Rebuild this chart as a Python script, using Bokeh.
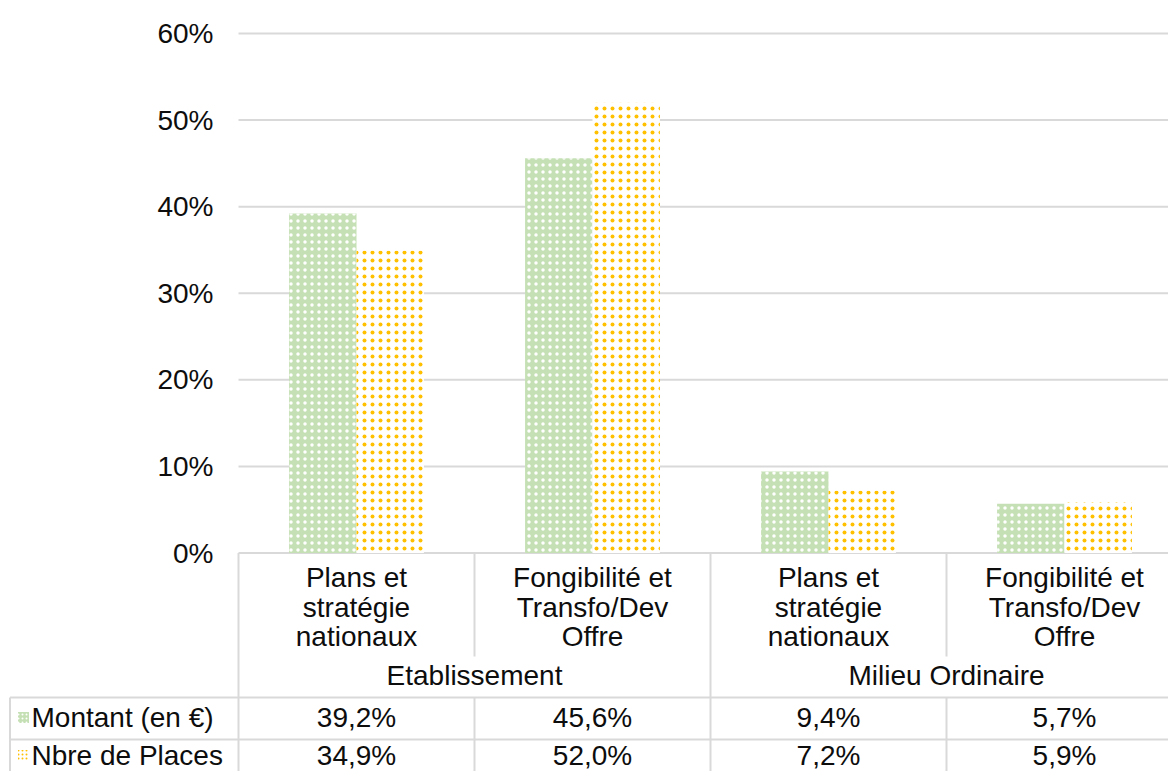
from bokeh.plotting import figure
from bokeh.models import Range1d, FixedTicker, NumeralTickFormatter, ColumnDataSource
from bokeh.embed import file_html
from bokeh.resources import INLINE
from bokeh.core.properties import value

# ---------------- data ----------------
categories = ["Plans et\nstratégie\nnationaux", "Fongibilité et\nTransfo/Dev\nOffre",
              "Plans et\nstratégie\nnationaux", "Fongibilité et\nTransfo/Dev\nOffre"]
groups = ["Etablissement", "Milieu Ordinaire"]
series_names = ["Montant (en €)", "Nbre de Places"]
montant = [0.392, 0.456, 0.094, 0.057]
places = [0.349, 0.520, 0.072, 0.059]
y_ticks = [0, 0.1, 0.2, 0.3, 0.4, 0.5, 0.6]

# ---------------- layout constants ----------------
W, H = 1168, 771
LEFT = 238                 # page x of the value axis / first category edge
COL = 236.0                # px per category
Y0 = 552.5                 # page y of 0 %
PXU = (Y0 - 33) / 0.6      # px per unit of value
FONT = "Liberation Sans"
FS = "28px"
GRID = "#D9D9D9"
GREEN = "#C5E0B4"
ORANGE = "#FFC000"
TXT = "#0d0d0d"


def py(page_y):
    """page y (px) -> value units"""
    return (Y0 - page_y) / PXU


def pxx(page_x):
    """page x (px) -> category units"""
    return (page_x - LEFT) / COL


def fmt(v):
    return f"{v*100:.1f}".replace(".", ",") + "%"


n = len(categories)
bw = 1 / 3.5
x_start, x_end = pxx(0), pxx(W)

p = figure(width=W, height=H, x_range=Range1d(x_start, x_end), y_range=Range1d(py(H), py(0)),
           output_backend="svg", toolbar_location=None, x_axis_location=None,
           min_border_left=0, min_border_right=0, min_border_top=0, min_border_bottom=0)
p.outline_line_color = None
p.grid.visible = False

# value axis drawn at the first category edge
ax = p.yaxis[0]
ax.fixed_location = 0
ax.ticker = FixedTicker(ticks=y_ticks)
ax.formatter = NumeralTickFormatter(format="0%")
ax.axis_line_color = None
ax.major_tick_line_color = None
ax.minor_tick_line_color = None
ax.major_tick_out = 0
ax.major_tick_in = 0
ax.major_label_text_font = FONT
ax.major_label_text_font_size = FS
ax.major_label_text_color = TXT
ax.major_label_standoff = 25

# horizontal gridlines at the value ticks
p.segment(x0=[0] * len(y_ticks), y0=y_ticks, x1=[x_end] * len(y_ticks), y1=y_ticks,
          line_color=GRID, line_width=2)

# ---------------- bars ----------------
xc = [i + 0.5 for i in range(n)]
src = ColumnDataSource(dict(x1=[x - bw / 2 for x in xc], x2=[x + bw / 2 for x in xc],
                            montant=montant, places=places))
p.vbar(x="x1", top="montant", bottom=0, width=bw, source=src, fill_color=GREEN, line_color=None,
       hatch_pattern="dot", hatch_color="white", hatch_scale=7, hatch_weight=2)
p.vbar(x="x2", top="places", bottom=0, width=bw, source=src, fill_color="white", line_color=None,
       hatch_pattern="dot", hatch_color=ORANGE, hatch_scale=8, hatch_weight=2)

# ---------------- data table ----------------
y_top, y_cat_end, y_grp, y_row, y_bot = Y0, 656, 697, 739, 800
x_tbl = pxx(9.5)
p.segment(x0=[x_tbl, x_tbl], y0=[py(y_grp), py(y_row)], x1=[x_end, x_end], y1=[py(y_grp), py(y_row)],
          line_color=GRID, line_width=2)
vx0, vy0, vy1 = [x_tbl, 0], [py(y_grp), py(y_top)], [py(y_bot), py(y_bot)]
for i in range(1, n):
    if i % 2 == 0:
        vx0.append(i); vy0.append(py(y_top)); vy1.append(py(y_bot))
    else:
        vx0 += [i, i]; vy0 += [py(y_top), py(y_grp)]; vy1 += [py(y_cat_end), py(y_bot)]
p.segment(x0=vx0, y0=vy0, x1=vx0, y1=vy1, line_color=GRID, line_width=2)

txt = dict(text_align="center", text_baseline="middle", text_font=value(FONT),
           text_font_size=value(FS), text_color=TXT)
# category labels
lx, ly, lt = [], [], []
for i, c in enumerate(categories):
    for j, line in enumerate(c.split("\n")):
        lx.append(i + 0.5); ly.append(py(577 + j * 29.5)); lt.append(line)
p.text(x=lx, y=ly, text=lt, **txt)
# group labels
p.text(x=[1.0, 3.0], y=[py(675), py(675)], text=groups, **txt)
# values
rows = [montant, places]
row_y = [717, 755]
vx, vy, vt = [], [], []
for r, vals in enumerate(rows):
    for i, v in enumerate(vals):
        vx.append(i + 0.5); vy.append(py(row_y[r])); vt.append(fmt(v))
p.text(x=vx, y=vy, text=vt, **txt)

# series names with their keys
p.text(x=[pxx(31)] * 2, y=[py(row_y[0]), py(row_y[1])], text=series_names,
       text_align="left", text_baseline="middle", text_font=value(FONT),
       text_font_size=value(FS), text_color=TXT)
kx, kw, kh = pxx(23), 11 / COL, 11 / PXU
p.rect(x=[kx], y=[py(row_y[0])], width=kw, height=kh, fill_color=GREEN, line_color=None,
       hatch_pattern="dot", hatch_color="white", hatch_scale=4, hatch_weight=1.5)
p.rect(x=[kx], y=[py(row_y[1])], width=kw, height=kh, fill_color="white", line_color=None,
       hatch_pattern="dot", hatch_color=ORANGE, hatch_scale=4, hatch_weight=1.5)

open("out.html", "w").write(file_html(p, INLINE))
